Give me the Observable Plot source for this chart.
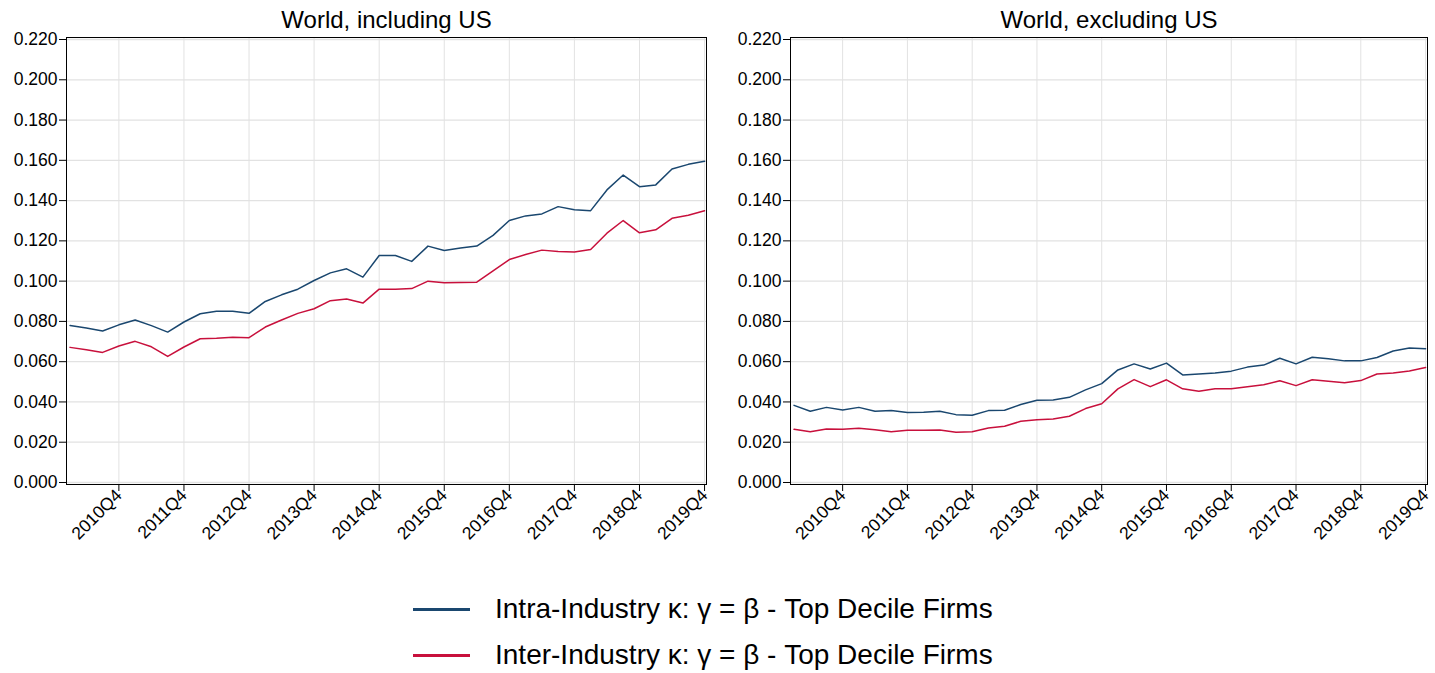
<!DOCTYPE html>
<html>
<head>
<meta charset="utf-8">
<script src="https://cdn.jsdelivr.net/npm/d3@7"></script>
<script src="https://cdn.jsdelivr.net/npm/@observablehq/plot@0.6"></script>
<style>
  html, body { margin: 0; padding: 0; background: #fff; }
  #wrap { position: relative; width: 1435px; height: 673px; font-family: Arial, "Liberation Sans", sans-serif; }
  #charts { display: flex; position: absolute; left: 0; top: 0; }
  #legend { position: absolute; left: 413px; top: 586px; }
  .row { display: flex; align-items: center; height: 46px; }
  .sw { width: 57px; height: 3px; margin-right: 25px; }
  .lab { font-size: 28px; color: #000; white-space: nowrap; }
</style>
</head>
<body>
<div id="wrap">
  <div id="charts"></div>
  <div id="legend"></div>
</div>
<script>
const quarters = [];
for (let y = 2010; y <= 2019; y++) for (let q = 1; q <= 4; q++) quarters.push(y + "Q" + q);

const xTickLabels = ["2010Q4","2011Q4","2012Q4","2013Q4","2014Q4","2015Q4","2016Q4","2017Q4","2018Q4","2019Q4"];
const yTicks = [0, 0.02, 0.04, 0.06, 0.08, 0.10, 0.12, 0.14, 0.16, 0.18, 0.20, 0.22];

const seriesNames = ["Intra-Industry \u03ba: \u03b3 = \u03b2 - Top Decile Firms", "Inter-Industry \u03ba: \u03b3 = \u03b2 - Top Decile Firms"];
const seriesColors = ["#1a476f", "#c8103c"];
const panelTitles = ["World, including US", "World, excluding US"];

// World, including US
const intraIncl = [0.0780,0.0767,0.0752,0.0783,0.0807,0.0779,0.0747,0.0797,0.0838,0.0850,
                   0.0850,0.0840,0.0899,0.0932,0.0960,0.1003,0.1041,0.1061,0.1020,0.1127,
                   0.1127,0.1098,0.1174,0.1152,0.1164,0.1174,0.1227,0.1301,0.1324,0.1334,
                   0.1370,0.1354,0.1350,0.1453,0.1527,0.1469,0.1478,0.1557,0.1580,0.1595];
const interIncl = [0.0671,0.0659,0.0646,0.0678,0.0701,0.0674,0.0626,0.0673,0.0714,0.0716,
                   0.0721,0.0719,0.0772,0.0807,0.0840,0.0863,0.0903,0.0911,0.0891,0.0960,
                   0.0960,0.0963,0.1000,0.0992,0.0993,0.0995,0.1051,0.1107,0.1132,0.1154,
                   0.1147,0.1145,0.1157,0.1238,0.1301,0.1240,0.1255,0.1312,0.1327,0.1350];
// World, excluding US
const intraExcl = [0.0383,0.0354,0.0373,0.0360,0.0373,0.0354,0.0357,0.0347,0.0349,0.0354,
                   0.0337,0.0334,0.0357,0.0359,0.0387,0.0408,0.0410,0.0423,0.0460,0.0491,
                   0.0559,0.0589,0.0564,0.0593,0.0534,0.0539,0.0544,0.0553,0.0573,0.0583,
                   0.0617,0.0589,0.0622,0.0614,0.0604,0.0604,0.0621,0.0653,0.0668,0.0664];
const interExcl = [0.0264,0.0252,0.0266,0.0264,0.0269,0.0262,0.0252,0.0259,0.0259,0.0261,
                   0.0249,0.0252,0.0271,0.0279,0.0304,0.0312,0.0315,0.0329,0.0367,0.0391,
                   0.0465,0.0511,0.0476,0.0510,0.0465,0.0453,0.0466,0.0465,0.0476,0.0485,
                   0.0505,0.0481,0.0510,0.0503,0.0495,0.0506,0.0539,0.0544,0.0554,0.0571];

const tickIdx = xTickLabels.map(l => quarters.indexOf(l));

function panel(title, intra, inter, w, ml, mr) {
  const data = [];
  quarters.forEach((q, i) => {
    data.push({i, q, v: intra[i], s: seriesNames[0]});
    data.push({i, q, v: inter[i], s: seriesNames[1]});
  });
  return Plot.plot({
    width: w, height: 560,
    marginLeft: ml, marginRight: mr, marginTop: 37, marginBottom: 76,
    style: {fontFamily: "Arial, 'Liberation Sans', sans-serif", fontSize: "17.5px", color: "#000", background: "#fff", overflow: "visible"},
    x: {type: "linear", domain: [-0.22, 39.12], label: null},
    y: {domain: [-0.001, 0.221], label: null},
    color: {domain: seriesNames, range: seriesColors},
    marks: [
      Plot.gridX(tickIdx, {stroke: "#e2e2e2", strokeOpacity: 1}),
      Plot.gridY(yTicks, {stroke: "#e2e2e2", strokeOpacity: 1, strokeWidth: 1.3}),
      Plot.lineY(data, {x: "i", y: "v", z: "s", stroke: "s", strokeWidth: 1.5}),
      Plot.frame({stroke: "#000", strokeWidth: 1}),
      Plot.axisX({ticks: tickIdx, tickFormat: i => quarters[i], tickRotate: -45, tickSize: 7, tickPadding: 1, fontSize: 17.5, label: null}),
      Plot.axisY({ticks: yTicks, tickFormat: d3.format(".3f"), tickSize: 7, tickPadding: 2, fontSize: 17.5, label: null}),
      Plot.text([title], {frameAnchor: "top", lineAnchor: "bottom", dy: -10, fontSize: 24, fill: "#000"})
    ]
  });
}

const charts = document.getElementById("charts");
charts.append(panel(panelTitles[0], intraIncl, interIncl, 717, 66, 11));
charts.append(panel(panelTitles[1], intraExcl, interExcl, 718, 73, 8));

const legend = document.getElementById("legend");
seriesNames.forEach((n, k) => {
  const row = document.createElement("div");
  row.className = "row";
  const sw = document.createElement("div");
  sw.className = "sw";
  sw.style.background = seriesColors[k];
  const lab = document.createElement("div");
  lab.className = "lab";
  lab.textContent = n;
  row.append(sw, lab);
  legend.append(row);
});
</script>
</body>
</html>
